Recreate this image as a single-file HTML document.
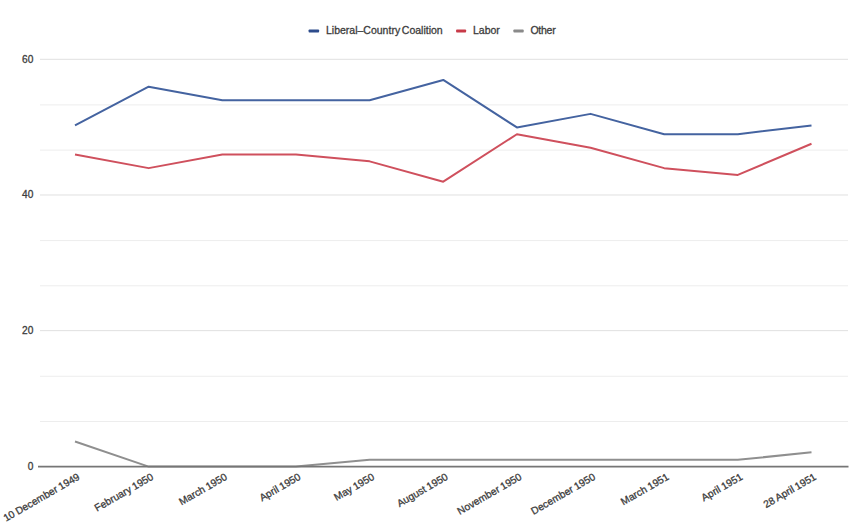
<!DOCTYPE html>
<html><head><meta charset="utf-8"><title>Chart</title>
<style>
html,body{margin:0;padding:0;background:#fff;}
body{width:850px;height:529px;overflow:hidden;}
svg{display:block;font-family:"Liberation Sans",Arial,sans-serif;}
.lg{word-spacing:-1.2px;}
.xl{word-spacing:-0.3px;}
</style></head><body>
<svg width="850" height="529" viewBox="0 0 850 529">
<rect width="850" height="529" fill="#fff"/>
<line x1="40" y1="421.48" x2="848" y2="421.48" stroke="#ededed" stroke-width="1"/>
<line x1="40" y1="376.26" x2="848" y2="376.26" stroke="#ededed" stroke-width="1"/>
<line x1="40" y1="330.63" x2="848" y2="330.63" stroke="#e0e0e0" stroke-width="1"/>
<line x1="40" y1="285.81" x2="848" y2="285.81" stroke="#ededed" stroke-width="1"/>
<line x1="40" y1="240.59" x2="848" y2="240.59" stroke="#ededed" stroke-width="1"/>
<line x1="40" y1="194.97" x2="848" y2="194.97" stroke="#e0e0e0" stroke-width="1"/>
<line x1="40" y1="150.14" x2="848" y2="150.14" stroke="#ededed" stroke-width="1"/>
<line x1="40" y1="104.92" x2="848" y2="104.92" stroke="#ededed" stroke-width="1"/>
<line x1="40" y1="59.30" x2="848" y2="59.30" stroke="#e0e0e0" stroke-width="1"/>
<text transform="translate(33.4 470.30) scale(0.95 1)" text-anchor="end" font-size="10.7" fill="#3c3c3c" stroke="#3c3c3c" stroke-width="0.3">0</text>
<text transform="translate(33.4 333.73) scale(0.95 1)" text-anchor="end" font-size="10.7" fill="#3c3c3c" stroke="#3c3c3c" stroke-width="0.3">20</text>
<text transform="translate(33.4 198.27) scale(0.95 1)" text-anchor="end" font-size="10.7" fill="#3c3c3c" stroke="#3c3c3c" stroke-width="0.3">40</text>
<text transform="translate(33.4 63.40) scale(0.95 1)" text-anchor="end" font-size="10.7" fill="#3c3c3c" stroke="#3c3c3c" stroke-width="0.3">60</text>
<polyline points="75.00,441.50 148.65,466.60 222.30,466.60 295.95,466.60 369.60,459.82 443.25,459.82 516.90,459.82 590.55,459.82 664.20,459.82 737.85,459.82 811.50,452.36" fill="none" stroke="#8f8f8f" stroke-width="2.0" stroke-linejoin="round"/>
<polyline points="75.00,154.57 148.65,168.13 222.30,154.57 295.95,154.57 369.60,161.35 443.25,181.70 516.90,134.22 590.55,147.78 664.20,168.13 737.85,174.92 811.50,143.71" fill="none" stroke="#cf505d" stroke-width="2.0" stroke-linejoin="round"/>
<polyline points="75.00,125.40 148.65,86.73 222.30,100.30 295.95,100.30 369.60,100.30 443.25,79.95 516.90,127.43 590.55,113.87 664.20,134.22 737.85,134.22 811.50,125.40" fill="none" stroke="#4463a0" stroke-width="2.0" stroke-linejoin="round"/>
<line x1="38" y1="466.60" x2="848.5" y2="466.60" stroke="#767676" stroke-width="1.6"/>
<text x="80.50" y="478.80" class="xl" text-anchor="end" font-size="10.2" fill="#3c3c3c" stroke="#3c3c3c" stroke-width="0.3" transform="rotate(-30 80.50 478.80)">10 December 1949</text>
<text x="154.15" y="478.80" class="xl" text-anchor="end" font-size="10.2" fill="#3c3c3c" stroke="#3c3c3c" stroke-width="0.3" transform="rotate(-30 154.15 478.80)">February 1950</text>
<text x="227.80" y="478.80" class="xl" text-anchor="end" font-size="10.2" fill="#3c3c3c" stroke="#3c3c3c" stroke-width="0.3" transform="rotate(-30 227.80 478.80)">March 1950</text>
<text x="301.45" y="478.80" class="xl" text-anchor="end" font-size="10.2" fill="#3c3c3c" stroke="#3c3c3c" stroke-width="0.3" transform="rotate(-30 301.45 478.80)">April 1950</text>
<text x="375.10" y="478.80" class="xl" text-anchor="end" font-size="10.2" fill="#3c3c3c" stroke="#3c3c3c" stroke-width="0.3" transform="rotate(-30 375.10 478.80)">May 1950</text>
<text x="448.75" y="478.80" class="xl" text-anchor="end" font-size="10.2" fill="#3c3c3c" stroke="#3c3c3c" stroke-width="0.3" transform="rotate(-30 448.75 478.80)">August 1950</text>
<text x="522.40" y="478.80" class="xl" text-anchor="end" font-size="10.2" fill="#3c3c3c" stroke="#3c3c3c" stroke-width="0.3" transform="rotate(-30 522.40 478.80)">November 1950</text>
<text x="596.05" y="478.80" class="xl" text-anchor="end" font-size="10.2" fill="#3c3c3c" stroke="#3c3c3c" stroke-width="0.3" transform="rotate(-30 596.05 478.80)">December 1950</text>
<text x="669.70" y="478.80" class="xl" text-anchor="end" font-size="10.2" fill="#3c3c3c" stroke="#3c3c3c" stroke-width="0.3" transform="rotate(-30 669.70 478.80)">March 1951</text>
<text x="743.35" y="478.80" class="xl" text-anchor="end" font-size="10.2" fill="#3c3c3c" stroke="#3c3c3c" stroke-width="0.3" transform="rotate(-30 743.35 478.80)">April 1951</text>
<text x="817.00" y="478.80" class="xl" text-anchor="end" font-size="10.2" fill="#3c3c3c" stroke="#3c3c3c" stroke-width="0.3" transform="rotate(-30 817.00 478.80)">28 April 1951</text>
<rect x="308.6" y="29.5" width="10.5" height="3" rx="0.8" fill="#2d4c8c"/>
<text class="lg" x="326" y="34.2" font-size="10.5" fill="#3c3c3c" stroke="#3c3c3c" stroke-width="0.3">Liberal–Country Coalition</text>
<rect x="456.1" y="29.5" width="10" height="3" rx="0.8" fill="#c83a48"/>
<text class="lg" x="473" y="34.2" font-size="10.5" fill="#3c3c3c" stroke="#3c3c3c" stroke-width="0.3">Labor</text>
<rect x="513.4" y="29.5" width="10.3" height="3" rx="0.8" fill="#8a8a8a"/>
<text class="lg" letter-spacing="-0.25" x="530.4" y="34.2" font-size="10.5" fill="#3c3c3c" stroke="#3c3c3c" stroke-width="0.3">Other</text>
</svg>
</body></html>
